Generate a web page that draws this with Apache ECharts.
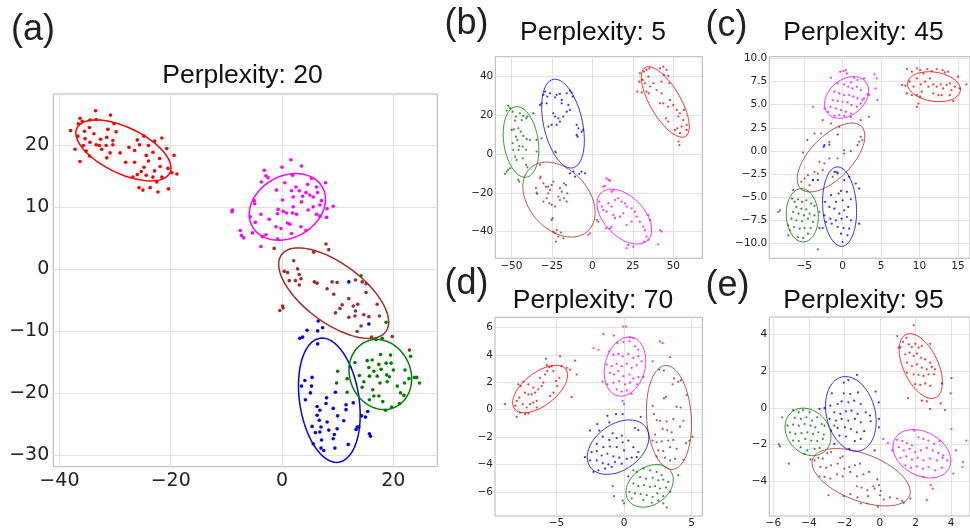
<!DOCTYPE html>
<html lang="en">
<head>
<meta charset="UTF-8" />
<script src="https://cdn.jsdelivr.net/npm/echarts@6/dist/echarts.min.js"></script>
<style>
  html, body { margin: 0; padding: 0; background: #fff; }
  #main { width: 970px; height: 529px; }
</style>
</head>
<body>
<div id="main"></div>
<script>
// cluster colours, same order in every panel
var clusterColors = ['#ff0000', '#ff00ff', '#a52a2a', '#0000ff', '#008000'];

// ---- (a) perplexity 20 ----
var a_red = [[-38.0,22.4],[-36.3,24.4],[-33.5,25.6],[-30.8,24.9],[-36.6,23.5],[-35.9,23.9],[-34.5,24.1],[-33.4,24.2],[-37.2,19.4],[-36.7,21.5],[-35.5,22.3],[-34.6,22.9],[-33.8,21.9],[-35.4,21.1],[-34.5,20.5],[-33.4,20.1],[-32.6,21.0],[-31.5,21.3],[-31.3,22.6],[-30.2,23.5],[-29.8,22.2],[-30.4,20.8],[-30.4,20.1],[-31.6,20.0],[-32.4,19.4],[-32.8,20.0],[-30.9,18.8],[-31.5,18.0],[-36.3,17.4],[-34.6,18.3],[-35.2,19.1],[-35.7,20.0],[-29.1,18.8],[-28.1,17.3],[-27.5,19.7],[-26.5,17.3],[-26.5,19.2],[-26.0,20.9],[-25.6,20.1],[-24.8,21.5],[-24.0,20.0],[-22.9,20.7],[-21.6,21.2],[-20.7,19.5],[-19.4,18.4],[-24.4,18.4],[-24.0,17.5],[-23.2,18.9],[-22.0,17.9],[-24.8,16.5],[-25.3,15.8],[-26.0,15.3],[-24.4,15.2],[-23.2,14.9],[-22.9,15.9],[-21.9,16.6],[-20.5,16.3],[-19.8,15.6],[-18.9,15.4],[-21.6,14.9],[-22.5,14.1],[-25.7,13.2],[-25.0,12.8],[-23.7,13.2],[-22.3,12.5],[-20.4,13.0],[-26.8,14.9]];
var a_magenta = [[1.6,17.7],[0.0,16.5],[3.5,16.7],[-3.2,16.0],[-2.9,15.1],[-2.5,14.8],[1.9,15.2],[-3.7,14.1],[0.5,14.0],[5.3,14.7],[7.8,14.0],[-1.0,12.8],[2.5,13.3],[1.7,12.7],[3.1,12.7],[4.6,13.7],[6.2,13.3],[4.3,12.4],[5.0,12.0],[6.4,12.4],[3.7,11.8],[2.0,11.7],[5.6,11.7],[7.1,11.1],[3.5,10.9],[0.1,11.2],[-5.0,11.1],[-4.9,10.6],[6.8,10.4],[9.2,10.2],[-8.9,9.6],[-9.0,9.3],[-0.7,9.7],[0.2,9.4],[2.0,10.1],[0.8,9.1],[1.9,9.1],[2.6,8.9],[4.7,9.6],[5.6,10.1],[8.1,9.8],[6.2,8.9],[-3.8,8.9],[-2.3,8.1],[-0.8,9.0],[-4.8,7.6],[-5.7,8.5],[8.0,8.4],[6.8,8.6],[-1.1,6.9],[-0.2,6.6],[1.0,7.5],[1.4,7.3],[3.4,6.9],[4.3,6.3],[-7.5,6.3],[-7.3,5.5],[-6.9,5.1],[-5.3,5.9],[-3.5,5.3],[-2.9,5.6],[-0.8,4.9],[1.7,5.8],[-3.8,3.7]];
var a_brown = [[7.9,4.1],[8.4,3.2],[5.7,2.8],[2.1,1.4],[2.8,0.1],[0.4,-0.3],[1.0,-0.5],[3.1,-0.8],[3.4,-1.5],[1.3,-1.8],[2.4,-1.8],[3.1,-2.5],[5.8,-2.0],[6.3,-2.2],[9.0,-2.0],[9.9,-2.1],[13.2,-1.7],[14.4,-2.0],[15.1,-2.3],[8.1,-3.1],[9.3,-4.0],[15.1,-3.7],[12.0,-4.7],[10.8,-5.7],[10.4,-6.3],[9.6,-7.0],[12.8,-5.9],[13.6,-5.6],[13.2,-6.7],[12.0,-7.7],[13.1,-7.5],[14.7,-7.3],[15.6,-7.6],[17.1,-5.6],[17.5,-7.5],[14.2,-9.1],[13.5,-10.0],[0.1,-5.9],[0.2,-6.2],[-0.4,-6.6],[16.1,-10.9],[19.8,-10.8],[22.9,-13.0],[-1.4,3.4]];
var a_blue = [[6.5,-8.3],[7.3,-9.4],[6.4,-9.9],[4.5,-9.8],[3.7,-10.9],[3.2,-11.1],[15.6,-8.8],[12.0,-2.0],[6.4,-12.0],[4.1,-17.9],[3.5,-18.8],[5.4,-17.4],[5.3,-18.8],[5.1,-19.9],[4.2,-21.0],[8.0,-20.7],[7.9,-21.6],[6.3,-22.1],[9.2,-22.4],[6.8,-22.7],[11.5,-21.8],[11.5,-22.6],[9.6,-19.8],[12.8,-21.5],[6.3,-23.5],[6.7,-24.3],[8.1,-24.6],[10.0,-23.6],[11.1,-24.4],[5.4,-25.3],[6.0,-26.3],[6.8,-26.2],[7.0,-25.4],[8.4,-25.9],[9.9,-25.7],[13.5,-25.4],[13.3,-25.8],[13.8,-25.4],[9.4,-26.6],[9.2,-27.3],[7.1,-27.5],[14.3,-23.6],[15.0,-23.8],[15.4,-22.9],[15.7,-26.5],[15.9,-26.9],[5.6,-28.1],[7.0,-28.8],[7.5,-29.2],[9.5,-28.8],[11.9,-28.2]];
var a_green = [[14.2,-1.0],[18.7,-8.5],[16.9,-11.3],[18.0,-11.1],[13.1,-15.0],[12.2,-15.7],[10.0,-16.4],[11.7,-17.6],[9.8,-18.3],[11.7,-19.8],[13.9,-17.1],[14.4,-19.0],[15.3,-14.7],[15.6,-15.8],[16.5,-16.4],[17.4,-15.3],[17.7,-13.7],[18.7,-15.1],[17.8,-16.1],[18.8,-17.0],[19.6,-15.1],[19.5,-13.8],[20.0,-16.2],[22.1,-16.2],[23.1,-14.0],[22.8,-17.6],[23.8,-17.4],[24.2,-17.4],[24.7,-18.3],[22.0,-18.3],[21.3,-19.9],[20.7,-18.8],[21.9,-20.3],[21.1,-21.6],[19.7,-22.2],[18.6,-22.7],[18.1,-21.3],[17.4,-20.4],[16.3,-19.4],[15.7,-21.0],[16.5,-20.4],[14.7,-18.1],[15.7,-17.2],[17.1,-17.2],[17.6,-18.3],[18.9,-18.1],[19.3,-17.3],[16.2,-14.6]];
// ellipse: centre x, centre y, half-axis 1 (dx, dy), half-axis 2 (dx, dy)
var a_ellipses = [[-28.5,19.2,8.37,-3.60,-1.78,-3.34],[0.96,10.1,6.29,3.19,2.72,-4.32],[9.28,-3.82,9.37,-6.22,-3.16,-3.83],[8.50,-21.08,1.69,-10.0,-5.28,-0.72],[17.66,-16.94,2.59,-5.30,-5.00,-1.97]];
var a_xTicks = [-40, -20, 0, 20];
var a_yTicks = [-30, -20, -10, 0, 10, 20];

// ---- (b) perplexity 5 ----
var b_red = [[29.4,41.7],[31.9,42.6],[33.5,43.5],[35.2,44.3],[29.0,37.4],[31.1,38.3],[32.5,36.6],[34.6,40.0],[35.6,34.9],[37.7,36.6],[41.8,44.3],[43.8,45.2],[45.9,43.5],[44.2,40.9],[46.9,40.4],[42.8,37.4],[47.5,36.6],[39.7,33.1],[42.8,31.4],[41.8,26.2],[43.8,26.2],[47.9,28.0],[46.9,24.5],[50.0,25.4],[52.1,22.8],[54.1,21.1],[53.1,19.4],[56.2,17.6],[58.2,15.1],[52.5,13.3],[51.0,12.5],[55.1,14.2],[54.1,10.8],[53.7,4.7],[53.3,6.5],[58.2,12.5],[56.6,22.8],[45.5,18.5],[46.9,16.8],[33.5,32.3],[34.8,31.4],[27.8,32.3],[30.5,31.9]];
var b_magenta = [[8.8,-12.5],[9.9,-13.3],[10.9,-13.7],[7.8,-16.4],[6.8,-16.8],[11.9,-19.4],[13.0,-18.8],[4.3,-24.5],[5.8,-27.1],[6.8,-28.8],[8.8,-29.7],[9.9,-25.4],[11.9,-27.1],[14.0,-23.7],[16.0,-22.8],[18.1,-24.5],[20.2,-25.4],[21.2,-27.1],[24.3,-28.0],[26.3,-29.7],[19.1,-30.6],[17.1,-32.3],[14.0,-33.1],[13.0,-31.4],[11.9,-37.4],[10.9,-38.3],[8.4,-38.3],[21.2,-36.6],[24.3,-34.9],[27.4,-32.3],[29.4,-34.9],[31.5,-37.4],[32.5,-39.2],[34.6,-31.4],[35.6,-34.0],[33.5,-42.6],[34.6,-44.3],[31.9,-45.2],[41.8,-39.2],[42.8,-40.0],[40.7,-46.6],[22.2,-46.9],[21.2,-48.6],[25.3,-47.8],[-1.4,-40.9],[-2.5,-41.7]];
var b_brown = [[-34.8,-17.6],[-34.4,-19.9],[-34.0,-20.6],[-32.3,-12.5],[-31.9,-11.6],[-30.2,-15.1],[-28.6,-16.8],[-27.2,-16.8],[-25.1,-15.9],[-24.1,-14.2],[-26.1,-18.5],[-27.2,-20.2],[-28.2,-22.8],[-30.2,-24.5],[-26.5,-25.4],[-25.1,-26.2],[-23.0,-27.1],[-21.0,-21.9],[-20.0,-17.6],[-18.9,-19.4],[-17.5,-15.1],[-16.3,-15.9],[-15.4,-20.2],[-17.5,-22.8],[-20.0,-23.7],[-24.5,-33.1],[-25.1,-34.0],[-22.0,-39.2],[-23.0,-40.9],[-22.4,-45.2],[-21.0,-42.6],[-19.5,-40.5],[-17.9,-43.5],[-24.1,-40.0],[2.7,-34.0],[3.7,-34.9],[-32.3,-5.6],[-23.0,1.3],[-22.4,0.8]];
var b_blue = [[-30.2,30.6],[-29.2,32.3],[-27.8,29.7],[-26.1,31.4],[-32.3,25.4],[-31.3,26.2],[-28.2,26.2],[-22.0,30.6],[-20.0,31.1],[-23.0,29.3],[-18.9,28.0],[-15.8,31.4],[-13.8,32.8],[-12.8,31.8],[-12.1,29.7],[-18.9,26.2],[-14.8,25.4],[-13.8,22.8],[-15.8,21.9],[-24.1,21.1],[-23.0,19.4],[-21.0,18.5],[-20.0,16.8],[-25.1,15.1],[-27.2,14.2],[-22.0,15.1],[-36.4,21.1],[-17.9,19.4],[-9.7,15.1],[-8.6,13.3],[-6.6,11.6],[-9.7,9.9],[-9.1,9.0],[-5.6,12.5],[-11.7,-9.0],[-10.7,-11.6],[-6.6,-9.0],[-4.5,-9.9],[-13.8,-9.9],[-8.0,-10.2]];
var b_green = [[-51.9,24.9],[-50.8,23.7],[-49.2,21.9],[-52.9,22.5],[-47.1,19.4],[-44.7,21.1],[-42.6,19.7],[-40.9,18.5],[-40.1,19.4],[-43.6,17.6],[-47.7,17.3],[-49.8,12.5],[-48.4,12.8],[-45.7,13.3],[-44.2,11.6],[-47.1,9.0],[-42.6,9.4],[-40.5,7.7],[-38.5,7.3],[-46.3,7.3],[-49.2,5.6],[-45.1,4.2],[-43.0,3.9],[-45.5,2.2],[-48.8,2.2],[-40.9,2.2],[-34.4,7.3],[-31.3,8.2],[-47.7,-1.3],[-43.0,-2.2],[-46.7,-3.0],[-40.9,-5.6],[-40.1,-6.8],[-50.8,-7.3],[-52.9,-9.0],[-53.9,-10.2],[-51.9,-8.2],[-45.7,-13.3],[-45.1,-14.2],[-34.4,1.3],[-15.8,-24.5]];
var b_ellipses = [[45.06,26.94,12.41,-17.81,-8.11,-3.94],[19.75,-32.27,14.42,-12.24,-8.74,-7.21],[-20.58,-23.49,17.65,-16.40,-13.66,-10.29],[-18.1,15.75,6.11,-22.87,-11.67,-2.19],[-44.03,6.28,3.25,-18.19,-10.51,-1.33]];
var b_xTicks = [-50, -25, 0, 25, 50];
var b_yTicks = [-40, -20, 0, 20, 40];

// ---- (c) perplexity 45 ----
var c_red = [[8.37,8.85],[9.01,8.56],[9.66,8.92],[10.09,8.74],[10.52,8.38],[11.03,8.85],[11.59,8.63],[12.23,8.85],[13.0,8.74],[13.3,8.49],[13.73,8.56],[7.73,7.12],[8.15,7.05],[8.71,7.48],[9.23,6.94],[9.66,7.84],[10.17,7.19],[10.73,7.48],[11.16,6.94],[11.37,7.84],[11.8,7.19],[12.23,6.94],[12.75,7.19],[13.09,6.76],[13.52,7.12],[13.95,7.30],[14.16,6.58],[14.59,6.94],[15.02,8.02],[15.24,6.76],[16.1,7.19],[9.66,6.04],[10.09,5.86],[10.3,6.40],[11.8,6.22],[12.45,6.04],[12.88,6.04],[13.95,6.04],[14.38,5.39],[9.66,4.77],[9.87,5.13],[9.01,6.04],[8.37,6.22]];
var c_magenta = [[-0.3,8.56],[0.13,8.63],[0.43,8.74],[0.56,8.38],[-1.5,7.91],[1.5,7.91],[1.93,7.66],[2.79,7.84],[4.16,8.27],[4.42,7.84],[4.29,6.76],[-0.64,7.30],[0.21,7.19],[1.07,7.41],[0.73,6.94],[1.29,6.76],[1.85,6.94],[2.36,6.58],[3.22,6.11],[3.43,6.04],[-1.07,6.40],[-0.43,6.22],[0.21,6.04],[0.86,6.04],[1.42,5.86],[1.93,5.68],[2.58,5.50],[-1.29,5.50],[-0.64,5.39],[0.0,5.32],[0.64,5.24],[1.16,4.95],[1.85,4.77],[2.36,5.14],[-1.59,4.77],[-0.86,4.59],[-0.21,4.41],[0.43,4.23],[1.07,4.05],[-2.36,4.59],[-1.85,4.23],[-1.07,3.80],[-0.43,3.87],[0.21,3.80],[-3.86,4.77],[2.79,5.68],[4.51,5.50]];
var c_brown = [[-2.58,3.33],[-1.5,2.97],[-0.43,2.61],[1.07,3.69],[2.36,3.33],[3.43,3.69],[2.36,1.53],[2.58,1.17],[2.15,0.99],[1.93,0.63],[1.07,-0.02],[0.21,-0.27],[-0.64,-0.81],[-1.72,-0.81],[-2.36,-1.35],[-3.0,-1.17],[-2.58,-2.07],[-3.22,-2.43],[-3.65,-2.25],[-4.51,-2.61],[-4.94,-2.97],[-5.36,-3.33],[-4.29,-3.69],[-3.86,-3.15],[-4.59,1.17],[-0.86,-2.25],[-0.64,-2.43],[-1.29,-2.79],[-6.44,-4.23],[-3.65,1.89],[-1.72,0.99],[-2.79,1.89],[0.21,0.09]];
var c_blue = [[-0.64,1.78],[-2.36,0.63],[-1.72,0.70],[-2.45,0.45],[-3.22,-3.15],[-3.86,-3.15],[-1.07,-2.25],[-0.64,-2.32],[0.21,-3.15],[0.86,-2.79],[1.72,-3.51],[2.15,-4.05],[-0.21,-4.31],[0.56,-4.41],[-0.52,-4.59],[-1.5,-4.77],[-2.27,-5.50],[-0.86,-5.50],[0.0,-5.32],[1.07,-5.21],[-1.72,-6.04],[-1.07,-6.22],[-0.43,-6.76],[0.21,-6.40],[0.73,-6.04],[-2.36,-6.94],[-1.59,-7.30],[-0.86,-7.48],[-0.13,-7.30],[0.56,-7.12],[1.07,-7.48],[-1.42,-7.84],[-2.15,-7.66],[-3.0,-8.31],[-2.58,-8.31],[-0.64,-8.20],[0.13,-8.31],[0.86,-8.38],[-0.21,-8.92],[0.64,-9.10],[2.15,-7.84],[0.0,-9.82]];
var c_green = [[-5.15,-0.16],[-8.15,-6.40],[-8.37,-6.58],[-7.08,-8.02],[-7.08,-9.10],[-6.57,-5.14],[-6.22,-5.50],[-5.79,-5.21],[-5.28,-5.50],[-4.72,-5.32],[-4.08,-5.68],[-3.65,-5.93],[-6.01,-6.04],[-5.36,-6.22],[-4.72,-6.29],[-6.44,-6.58],[-5.71,-6.76],[-5.02,-6.94],[-4.29,-6.76],[-3.65,-6.94],[-6.65,-7.30],[-6.01,-7.48],[-5.28,-7.59],[-4.51,-7.30],[-3.86,-7.66],[-6.31,-8.20],[-5.58,-8.38],[-4.94,-8.31],[-4.16,-8.31],[-5.79,-9.28],[-5.15,-9.39],[-4.51,-8.92],[-3.0,-6.58],[-6.87,-8.56],[-3.22,-10.61]];
var c_ellipses = [[11.89,6.94,3.44,-0.43,-0.27,-1.56],[0.52,5.78,2.49,1.68,1.43,-1.50],[-1.50,-0.70,3.95,3.36,1.94,-1.60],[-0.39,-6.0,0.32,-4.29,-2.19,-0.12],[-5.24,-6.94,0.17,-2.88,-2.08,-0.07]];
var c_xTicks = [-5, 0, 5, 10, 15];
var c_yTicks = [-10, -7.5, -5, -2.5, 0, 2.5, 5, 7.5, 10];

// ---- (d) perplexity 70 ----
var d_red = [[-8.81,0.40],[-7.95,-0.52],[-7.70,-0.21],[-7.33,-0.33],[-7.09,-0.28],[-8.07,0.28],[-7.95,0.64],[-7.75,0.88],[-7.51,0.40],[-7.21,0.16],[-6.96,0.40],[-6.72,0.52],[-6.47,0.64],[-7.33,1.24],[-7.09,1.12],[-6.84,1.12],[-6.59,1.24],[-7.83,1.85],[-7.65,1.73],[-7.46,2.04],[-7.09,1.85],[-6.72,1.61],[-6.35,1.49],[-6.10,1.73],[-5.98,1.97],[-6.22,2.33],[-5.85,2.57],[-5.68,2.81],[-5.53,3.10],[-5.78,3.73],[-5.36,3.18],[-5.23,2.81],[-5.04,2.09],[-4.94,1.73],[-4.79,2.33],[-4.74,3.90],[-4.62,3.18],[-4.25,3.06],[-4.0,2.93],[-3.63,3.59],[-3.51,2.57],[-3.88,0.93],[-5.23,1.24],[-5.48,1.0],[-6.47,0.16],[-5.73,3.25]];
var d_magenta = [[-1.53,5.52],[-0.74,5.42],[-0.05,6.07],[0.15,6.07],[0.44,5.28],[0.69,5.23],[-2.27,4.50],[-1.90,4.38],[-0.49,4.87],[-0.05,4.94],[0.40,4.99],[0.81,4.63],[1.06,4.38],[-1.09,4.26],[-0.79,4.02],[-0.42,4.07],[-0.10,3.90],[0.32,4.07],[0.69,3.78],[1.06,3.90],[2.12,3.54],[2.67,4.99],[2.86,4.86],[-1.28,3.30],[-0.91,3.18],[-0.54,3.35],[-0.17,3.18],[0.20,3.35],[0.57,3.06],[0.94,3.25],[1.31,3.54],[-1.04,2.69],[-0.74,2.57],[-0.42,2.81],[-0.05,2.45],[0.40,2.57],[0.69,2.28],[1.06,2.38],[-1.58,2.04],[-1.23,1.85],[-0.79,1.97],[-0.35,2.09],[0.07,1.85],[0.44,1.97],[0.94,1.85],[-0.54,1.49],[-0.17,1.32],[0.20,1.41],[0.57,1.17],[0.0,0.40],[-0.10,0.64],[1.43,2.38]];
var d_brown = [[3.41,3.83],[2.62,2.93],[2.96,2.86],[3.70,2.28],[4.02,2.04],[4.20,2.14],[3.60,1.85],[4.64,1.07],[2.96,0.83],[3.11,0.93],[3.90,0.21],[4.20,0.16],[2.22,-0.33],[2.42,-0.76],[2.67,-0.81],[3.16,-0.86],[3.65,-0.69],[4.40,-0.81],[2.86,-1.41],[3.21,-1.49],[3.53,-1.65],[4.15,-1.24],[2.12,-2.26],[2.42,-2.38],[2.79,-2.31],[3.28,-2.26],[3.65,-2.21],[4.59,-2.45],[2.54,-2.98],[2.91,-3.03],[3.41,-2.74],[3.90,-2.86],[2.42,-3.42],[3.04,-3.51],[3.41,-3.71],[3.78,-3.59],[4.40,-3.66],[4.02,-4.79],[4.84,-2.26],[2.30,-1.82],[2.12,0.28]];
var d_blue = [[-1.23,-0.45],[-0.59,-0.33],[-0.10,-0.33],[1.23,-0.52],[-1.98,-1.05],[-1.09,-0.93],[-2.52,-1.53],[-1.83,-1.53],[-0.84,-1.73],[-0.17,-1.90],[0.32,-2.26],[0.81,-1.34],[1.06,-1.49],[-1.58,-1.97],[-1.09,-2.21],[-0.54,-2.07],[-0.10,-2.38],[-2.02,-2.50],[-1.53,-2.74],[-1.04,-2.69],[-0.54,-2.74],[0.0,-2.98],[0.69,-2.74],[1.06,-3.10],[-2.40,-3.10],[-2.02,-3.03],[-1.65,-3.35],[-1.23,-3.22],[-0.79,-3.42],[-0.35,-3.51],[0.20,-3.59],[0.94,-3.47],[-2.89,-3.47],[-2.52,-3.71],[-2.02,-3.71],[-1.58,-3.90],[-1.16,-4.0],[-0.67,-3.83],[-0.17,-3.95],[0.57,-3.51],[-2.27,-4.55],[-1.90,-4.43],[-1.41,-4.31],[-0.91,-4.19],[0.32,-4.87]];
var d_green = [[-0.84,-5.59],[-0.74,-6.32],[-0.10,-6.65],[0.0,-6.85],[0.69,-4.43],[0.94,-4.55],[1.43,-4.31],[1.93,-4.43],[2.42,-4.55],[2.79,-4.79],[1.19,-4.92],[1.63,-5.04],[2.12,-4.96],[2.54,-5.16],[2.91,-5.11],[3.28,-5.28],[0.69,-5.40],[1.06,-5.59],[1.48,-5.52],[1.93,-5.64],[2.30,-5.59],[2.67,-5.76],[3.11,-5.69],[0.40,-6.0],[0.81,-6.12],[1.23,-6.17],[1.68,-6.24],[2.12,-6.37],[2.47,-6.12],[2.91,-6.32],[3.41,-6.0],[0.57,-6.49],[1.43,-6.61],[2.05,-6.80],[2.54,-6.65],[3.16,-7.14],[2.91,-6.85],[5.08,-1.97]];
var d_ellipses = [[-6.22,1.51,1.89,1.46,0.76,-0.94],[0.07,3.15,0.55,2.13,1.44,-0.36],[3.33,-0.57,0.26,-3.80,-1.65,-0.11],[-0.44,-2.74,2.05,1.47,1.01,-1.34],[1.90,-5.57,1.55,1.09,0.82,-1.11]];
var d_xTicks = [-5, 0, 5];
var d_yTicks = [-6, -4, -2, 0, 2, 4, 6];

// ---- (e) perplexity 95 ----
var e_red = [[0.97,3.91],[1.90,4.50],[1.06,3.28],[1.15,3.31],[1.30,3.60],[1.49,3.82],[1.62,3.46],[1.80,3.31],[1.99,3.49],[2.17,3.28],[2.36,3.37],[2.83,3.49],[1.43,2.92],[1.67,3.01],[1.90,2.83],[2.08,2.95],[2.30,2.73],[2.55,2.64],[2.83,2.46],[1.52,2.46],[1.80,2.28],[2.08,2.37],[2.36,2.19],[2.64,2.10],[2.92,2.23],[3.10,2.10],[1.52,1.92],[1.90,1.83],[2.17,1.80],[2.45,1.74],[2.73,1.83],[3.05,1.83],[1.99,1.29],[2.27,1.25],[2.55,1.33],[2.83,1.20],[3.48,1.33],[4.03,1.62],[3.98,0.79],[1.58,0.53],[2.36,0.39],[2.64,0.35],[3.42,0.24],[2.83,-0.06],[3.66,-0.12]];
var e_magenta = [[0.19,-1.69],[0.45,-1.92],[0.69,-2.32],[0.97,-1.74],[1.25,-1.81],[1.52,-1.92],[1.80,-2.05],[1.93,-1.24],[2.17,-1.60],[2.45,-1.69],[2.73,-1.78],[3.05,-1.96],[3.35,-1.81],[4.03,-1.15],[1.06,-2.14],[1.34,-2.32],[1.67,-2.23],[1.99,-2.41],[2.30,-2.32],[2.64,-2.18],[2.97,-2.32],[3.29,-2.46],[3.57,-2.59],[1.15,-2.72],[1.49,-2.64],[1.80,-2.82],[2.12,-2.72],[2.45,-2.86],[2.83,-2.77],[3.20,-2.86],[3.53,-2.72],[3.79,-2.86],[1.43,-3.13],[1.75,-3.26],[2.08,-3.19],[2.42,-3.31],[2.73,-3.22],[3.10,-3.40],[3.48,-3.26],[2.45,-3.76],[2.86,-4.21],[2.97,-4.40],[4.68,-2.95],[4.65,-3.22],[4.87,-1.78],[4.28,-2.32],[4.13,-3.58],[2.64,-5.03]];
var e_brown = [[-3.68,-2.86],[-3.46,-2.72],[-3.22,-2.77],[-2.97,-2.46],[-2.75,-2.41],[-2.23,-2.72],[-2.10,-2.64],[-3.35,-3.22],[-3.03,-3.26],[-2.75,-3.13],[-2.38,-3.04],[-2.01,-3.31],[-1.73,-3.22],[-1.41,-3.13],[-1.12,-3.04],[-3.40,-3.73],[-3.12,-3.76],[-2.79,-3.85],[-2.42,-3.62],[-2.10,-3.73],[-1.67,-3.49],[-1.30,-3.73],[-0.93,-3.62],[-0.61,-3.49],[-0.15,-3.90],[-0.06,-4.21],[-0.30,-4.40],[-1.30,-4.27],[-1.04,-4.34],[-0.71,-4.49],[-0.37,-4.27],[0.04,-4.52],[-2.90,-4.76],[-2.04,-4.81],[-1.67,-4.70],[-1.26,-4.88],[-0.67,-4.81],[0.0,-4.76],[0.22,-4.99],[0.56,-4.88],[0.97,-4.94],[1.25,-5.06],[1.71,-4.94],[-0.71,-5.21],[-1.08,-5.21],[-0.11,-5.39],[1.34,-5.17],[-3.90,-2.81]];
var e_blue = [[-2.04,1.38],[-1.78,1.51],[-1.30,1.80],[-2.71,0.79],[-2.04,0.79],[-1.67,0.75],[-1.23,0.84],[-0.24,0.89],[-3.40,-0.06],[-3.12,-0.01],[-2.79,0.12],[-2.38,0.21],[-2.16,0.35],[-1.78,0.30],[-1.45,0.39],[-1.08,0.21],[-0.06,0.30],[-2.57,-0.24],[-2.23,-0.33],[-1.91,-0.19],[-1.60,-0.15],[-1.26,-0.33],[-0.80,-0.24],[-0.56,-0.42],[-2.84,-0.60],[-2.47,-0.69],[-2.16,-0.60],[-1.78,-0.69],[-1.41,-0.60],[-1.08,-0.79],[-0.52,-0.73],[-0.06,-0.60],[-2.75,-1.24],[-2.38,-1.09],[-1.97,-1.06],[-1.64,-1.15],[-1.30,-1.33],[-0.89,-1.27],[-0.06,-1.06],[-2.29,-1.51],[-1.91,-1.56],[-1.41,-1.81],[-1.08,-1.69],[-1.73,-2.23],[-0.30,-2.32],[-2.57,-1.96]];
var e_green = [[-5.50,-0.51],[-5.69,-1.99],[-5.63,-2.10],[-5.13,-3.04],[-4.89,-0.12],[-4.57,-0.24],[-4.33,-0.12],[-3.96,-0.24],[-4.80,-0.55],[-4.46,-0.60],[-4.14,-0.51],[-3.83,-0.69],[-3.53,-0.51],[-5.20,-0.97],[-4.89,-0.91],[-4.57,-0.97],[-4.24,-0.88],[-3.90,-0.97],[-3.64,-1.06],[-3.27,-0.88],[-5.07,-1.33],[-4.76,-1.42],[-4.42,-1.38],[-4.09,-1.33],[-3.77,-1.42],[-3.46,-1.33],[-3.16,-1.45],[-3.12,-0.97],[-4.89,-1.78],[-4.57,-1.81],[-4.20,-1.69],[-3.87,-1.78],[-3.53,-1.81],[-3.22,-1.69],[-4.46,-2.14],[-4.09,-2.32],[-3.68,-2.23],[-3.40,-2.18],[-4.24,-2.50],[-2.57,-0.97]];
var e_ellipses = [[2.30,2.28,0.84,-1.72,-0.88,-0.41],[2.36,-2.50,1.52,-0.81,-0.59,-1.04],[-1.06,-3.78,2.73,-1.00,-0.46,-1.20],[-1.64,-0.33,0.52,-2.01,-1.33,-0.33],[-4.05,-1.31,0.93,-1.07,-0.90,-0.73]];
var e_xTicks = [-6, -4, -2, 0, 2, 4];
var e_yTicks = [-4, -2, 0, 2, 4];

var panels = [
  { clusters: [a_red, a_magenta, a_brown, a_blue, a_green], ellipses: a_ellipses, xTicks: a_xTicks, yTicks: a_yTicks,
    x: [-41.1, 27.9], y: [-31.8, 28.3], rect: [53.3, 94, 384, 372.7], big: true },
  { clusters: [b_red, b_magenta, b_brown, b_blue, b_green], ellipses: b_ellipses, xTicks: b_xTicks, yTicks: b_yTicks,
    x: [-59.9, 67.9], y: [-53.8, 50.3], rect: [495.3, 56.7, 207, 201.6] },
  { clusters: [c_red, c_magenta, c_brown, c_blue, c_green], ellipses: c_ellipses, xTicks: c_xTicks, yTicks: c_yTicks,
    x: [-9.53, 16.57], y: [-11.58, 10.18], rect: [769.3, 56.7, 202.7, 201.6], decimals: 1 },
  { clusters: [d_red, d_magenta, d_brown, d_blue, d_green], ellipses: d_ellipses, xTicks: d_xTicks, yTicks: d_yTicks,
    x: [-9.56, 5.80], y: [-7.77, 6.75], rect: [495, 317.3, 207.3, 200.4] },
  { clusters: [e_red, e_magenta, e_brown, e_blue, e_green], ellipses: e_ellipses, xTicks: e_xTicks, yTicks: e_yTicks,
    x: [-6.23, 5.07], y: [-5.89, 4.95], rect: [769.3, 317, 202.7, 200.7] }
];

// outline of an ellipse given its centre and two conjugate half-axes
function ellipseLine(p) {
  var pts = [];
  for (var k = 0; k <= 90; k++) {
    var t = k / 90 * 2 * Math.PI;
    pts.push([p[0] + p[2] * Math.cos(t) + p[4] * Math.sin(t),
              p[1] + p[3] * Math.cos(t) + p[5] * Math.sin(t)]);
  }
  return pts;
}

function tickText(decimals) {
  return function (v) {
    var s = decimals ? Math.abs(v).toFixed(decimals) : String(Math.abs(v));
    return (v < 0 ? '\u2212' : '') + s;
  };
}

var grids = [], xAxes = [], yAxes = [], series = [];
panels.forEach(function (p, i) {
  var fs = p.big ? 19 : 10.5;
  grids.push({ left: p.rect[0], top: p.rect[1], width: p.rect[2], height: p.rect[3],
    show: true, borderColor: '#b5b5b5', borderWidth: 1, backgroundColor: '#fff' });
  xAxes.push({ type: 'value', gridIndex: i, min: p.x[0], max: p.x[1],
    axisLine: { show: false }, axisTick: { show: false, customValues: p.xTicks },
    axisLabel: { customValues: p.xTicks, fontSize: fs, fontFamily: 'DejaVu Sans', color: '#222',
      margin: p.big ? 5 : 2, formatter: tickText(0) },
    splitLine: { show: true, lineStyle: { color: '#e2e2e2', width: 1 } } });
  yAxes.push({ type: 'value', gridIndex: i, min: p.y[0], max: p.y[1],
    axisLine: { show: false }, axisTick: { show: false, customValues: p.yTicks },
    axisLabel: { customValues: p.yTicks, fontSize: fs, fontFamily: 'DejaVu Sans', color: '#222',
      margin: p.big ? 4 : 2, formatter: tickText(p.decimals || 0) },
    splitLine: { show: true, lineStyle: { color: '#e2e2e2', width: 1 } } });
  p.clusters.forEach(function (pts, j) {
    series.push({ type: 'scatter', xAxisIndex: i, yAxisIndex: i, data: pts,
      symbolSize: p.big ? 3.6 : 2.2, itemStyle: { color: clusterColors[j], opacity: p.big ? 1 : 0.8 },
      silent: true });
  });
  p.ellipses.forEach(function (e, j) {
    series.push({ type: 'line', xAxisIndex: i, yAxisIndex: i, data: ellipseLine(e),
      showSymbol: false, symbol: 'none', smooth: false, silent: true, clip: true,
      lineStyle: { color: clusterColors[j], width: p.big ? 1.5 : 1, opacity: p.big ? 1 : 0.8 } });
  });
});

// panel letters and titles
var letters = [['(a)', 11, 30], ['(b)', 444.5, 24.5], ['(c)', 705.5, 26.5], ['(d)', 444.5, 284.5], ['(e)', 705.5, 286]];
var titles = [['Perplexity: 20', 242.5, 75.5], ['Perplexity: 5', 593, 33], ['Perplexity: 45', 863.5, 33],
              ['Perplexity: 70', 593, 300.5], ['Perplexity: 95', 863.5, 300.5]];
var graphics = [];
letters.forEach(function (l) {
  graphics.push({ type: 'text', x: l[1], y: l[2], silent: true,
    style: { text: l[0], fontSize: 36, fontFamily: 'Liberation Sans', fill: '#222',
      textAlign: 'left', textVerticalAlign: 'middle', align: 'left', verticalAlign: 'middle' } });
});
titles.forEach(function (t) {
  graphics.push({ type: 'text', x: t[1], y: t[2], silent: true,
    style: { text: t[0], fontSize: 26.5, fontFamily: 'Liberation Sans', fill: '#111',
      textAlign: 'center', textVerticalAlign: 'middle', align: 'center', verticalAlign: 'middle' } });
});

var chart = echarts.init(document.getElementById('main'), null, { renderer: 'canvas' });
chart.setOption({
  animation: false,
  backgroundColor: '#fff',
  grid: grids,
  xAxis: xAxes,
  yAxis: yAxes,
  series: series,
  graphic: graphics
});
</script>
</body>
</html>
